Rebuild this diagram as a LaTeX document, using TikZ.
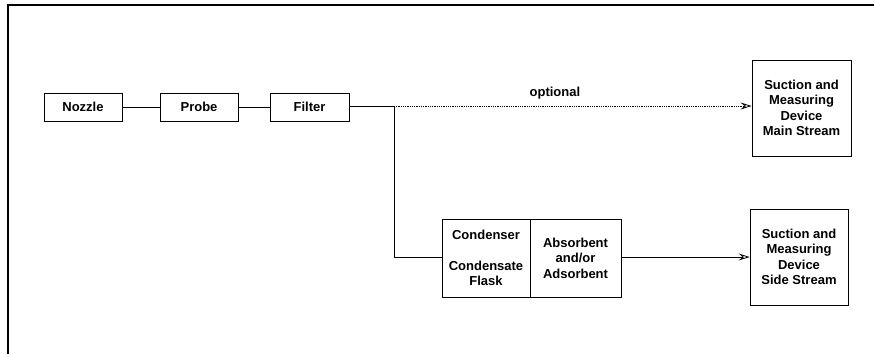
\documentclass[tikz,border=0pt]{standalone}
\usepackage{fontspec}
\setmainfont{Liberation Sans}
\usetikzlibrary{arrows.meta}
\begin{document}
\begin{tikzpicture}[x=1pt,y=-1pt,
  txt/.style={font=\bfseries\fontsize{13}{15.5}\selectfont, align=center},
  unit/.style={draw, line width=0.8pt, txt, inner sep=0pt},
  pipe/.style={line width=0.8pt},
  tip/.style={-{Stealth[open, length=11pt, width=7pt, inset=4pt]}}]
  \useasboundingbox (0,0) rectangle (874,354);
  % frame
  \draw[line width=1.2pt] (8,354) -- (8,5) -- (874,5);
  % sampling train
  \node[unit, minimum width=78, minimum height=28] (nozzle) at (83,107) {Nozzle};
  \node[unit, minimum width=78, minimum height=28] (probe) at (199,107) {Probe};
  \node[unit, minimum width=79, minimum height=28] (filter) at (309.5,107) {Filter};
  \node[unit, minimum width=99, minimum height=96] (main) at (801.5,108)
    {Suction and\\Measuring\\Device\\Main Stream};
  \node[unit, minimum width=88, minimum height=78] (condL) at (486,258)
    {Condenser\\[15pt]Condensate\\Flask};
  \node[unit, minimum width=91, minimum height=78] (condR) at (575.5,258)
    {Absorbent\\and/or\\Adsorbent};
  \node[unit, minimum width=98, minimum height=96] (side) at (799,257)
    {Suction and\\Measuring\\Device\\Side Stream};
  \coordinate (j1) at (394,106);
  \coordinate (j2) at (394,257);
  % connections
  \draw[pipe] (nozzle) -- (probe);
  \draw[pipe] (probe) -- (filter);
  \draw[pipe] (filter.east |- j1) -- (j1);
  \draw[pipe, densely dotted, tip] (j1) -- (j1 -| main.west)
    node[pos=0.45, above=3pt, txt] (opt) {optional};
  \draw[pipe] (j1) -- (j2) -- (j2 -| condL.west);
  \draw[pipe, tip] (condR.east |- side.west) -- (side.west);
\end{tikzpicture}
\end{document}
